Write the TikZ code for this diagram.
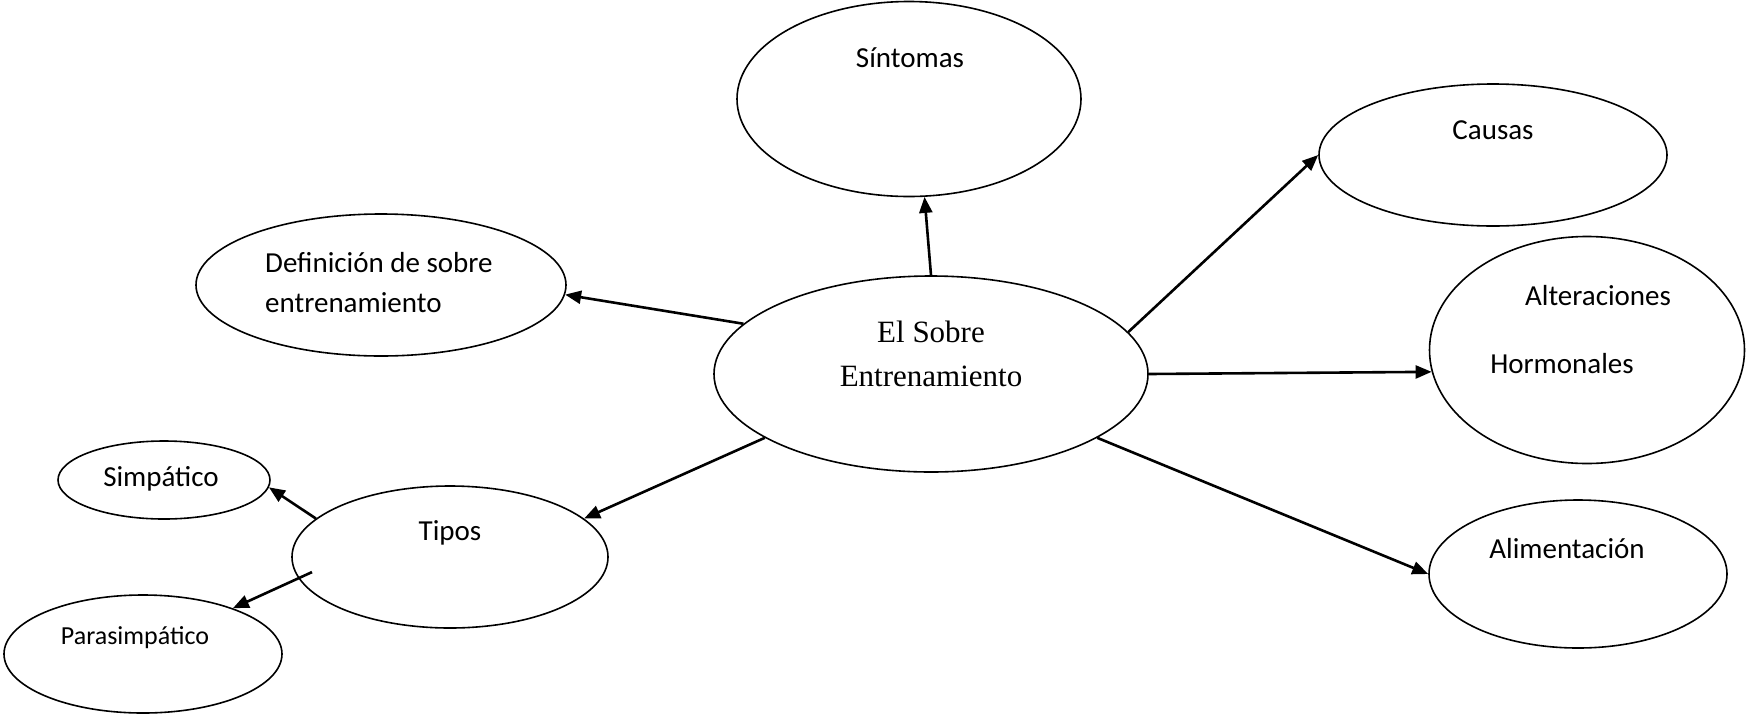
\documentclass[tikz,border=0pt]{standalone}
\usepackage{fontspec}
\setmainfont{Carlito}
\newfontfamily\timesf{Liberation Serif}
\usetikzlibrary{shapes.geometric,arrows.meta}
\begin{document}
\begin{tikzpicture}[x=1pt,y=-1pt,
  oval/.style={draw,ellipse,line width=1.6pt,inner sep=0pt},
  lbl/.style={inner sep=0pt,font=\fontsize{29}{35}\selectfont},
  conn/.style={line width=2.6pt,-{Triangle[length=16pt,width=13pt]}}]
\useasboundingbox (0,0) rectangle (1746,716);
% ellipses
\node[oval,minimum width=344pt,minimum height=195pt] (sint) at (909,99) {};
\node[oval,minimum width=348pt,minimum height=142pt] (causas) at (1493,155) {};
\node[oval,minimum width=370pt,minimum height=142pt] (def) at (381,285) {};
\node[oval,minimum width=434pt,minimum height=196pt] (sobre) at (931,374) {};
\node[oval,minimum width=315pt,minimum height=227pt] (alter) at (1587,350) {};
\node[oval,minimum width=212pt,minimum height=78pt] (simp) at (164,480) {};
\node[oval,minimum width=316pt,minimum height=142pt] (tipos) at (450,557) {};
\node[oval,minimum width=278pt,minimum height=118pt] (paras) at (143,654) {};
\node[oval,minimum width=298pt,minimum height=148pt] (alim) at (1578,574) {};
% texts
\node[lbl] (tsint) at (910,58) {Síntomas};
\node[lbl] (tcausas) at (1493,130) {Causas};
\node[lbl,anchor=west] (tdef1) at (265,263) {Definición de sobre};
\node[lbl,anchor=west] (tdef2) at (265,303) {entrenamiento};
\node[inner sep=0pt,font=\timesf\fontsize{31}{37}\selectfont] (tsobre1) at (931,332) {El Sobre};
\node[inner sep=0pt,font=\timesf\fontsize{31}{37}\selectfont] (tsobre2) at (931,376) {Entrenamiento};
\node[lbl] (talter1) at (1598,296) {Alteraciones};
\node[lbl] (talter2) at (1562,364) {Hormonales};
\node[lbl] (talim) at (1567,549) {Alimentación};
\node[lbl] (ttipos) at (450,533) {Tipos};
\node[lbl] (tsimp) at (161,479) {Simpático};
\node[inner sep=0pt,font=\fontsize{26}{31}\selectfont] (tparas) at (135,638) {Parasimpático};
% connectors
\draw[conn] (sobre.north) -- (sint.-81);
\draw[conn] (sobre.165) -- (def.-3);
\draw[conn] (sobre.12) -- (causas.west);
\draw[conn] (sobre.east) -- (alter.188);
\draw[conn] (sobre.-21) -- (alim.west);
\draw[conn] (sobre.201) -- (tipos.16);
\draw[conn] (tipos.164) -- (simp.-4);
\draw[conn,shorten <=-15pt] (tipos.188) -- (paras.27);
\end{tikzpicture}
\end{document}
